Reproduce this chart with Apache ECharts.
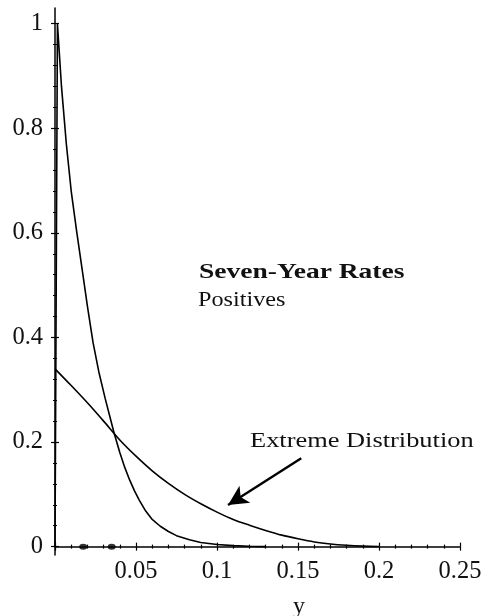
<!DOCTYPE html>
<html>
<head>
<meta charset="utf-8">
<script src="https://cdn.jsdelivr.net/npm/echarts@6/dist/echarts.min.js"></script>
<style>
html,body{margin:0;padding:0;background:#fff;}
#chart{width:486px;height:616px;}
</style>
</head>
<body>
<div id="chart"></div>
<script>
// ---- data ----
const peakX = [0, 0.0015, 0.004, 0.007, 0.010, 0.0135, 0.017, 0.020, 0.0235, 0.027, 0.031, 0.034, 0.0366, 0.040, 0.043, 0.046, 0.049, 0.052, 0.056, 0.060, 0.065, 0.070, 0.075, 0.083, 0.09, 0.1, 0.11, 0.12, 0.13];
const peakY = [0, 1.0, 0.88, 0.77, 0.68, 0.60, 0.525, 0.46, 0.39, 0.335, 0.283, 0.247, 0.216, 0.18, 0.152, 0.128, 0.107, 0.089, 0.068, 0.052, 0.039, 0.029, 0.021, 0.013, 0.008, 0.004, 0.002, 0.0006, 0];
const extremeX = [0, 0.01, 0.02, 0.03, 0.04, 0.05, 0.06, 0.07, 0.08, 0.09, 0.1, 0.11, 0.12, 0.13, 0.14, 0.15, 0.16, 0.17, 0.18, 0.19, 0.2];
const extremeY = [0.34, 0.308, 0.275, 0.24, 0.204, 0.173, 0.145, 0.121, 0.1, 0.082, 0.066, 0.052, 0.041, 0.031, 0.022, 0.015, 0.009, 0.005, 0.0025, 0.001, 0.0003];
const dotX = [0.0174, 0.035];
const dotY = [0, 0];
const xMajorTicks = [0, 0.05, 0.1, 0.15, 0.2, 0.25];
const xMinorTicks = [0.01, 0.02, 0.03, 0.04, 0.06, 0.07, 0.08, 0.09, 0.11, 0.12, 0.13, 0.14, 0.16, 0.17, 0.18, 0.19, 0.21, 0.22, 0.23, 0.24];
const xTickLabels = [0.05, 0.1, 0.15, 0.2, 0.25];
const yMajorTicks = [0, 0.2, 0.4, 0.6, 0.8, 1];
const yMinorTicks = [0.04, 0.08, 0.12, 0.16, 0.24, 0.28, 0.32, 0.36, 0.44, 0.48, 0.52, 0.56, 0.64, 0.68, 0.72, 0.76, 0.84, 0.88, 0.92, 0.96];
const yTickLabels = [0, 0.2, 0.4, 0.6, 0.8, 1];
const arrowTail = [0.152, 0.169];
const arrowTip = [0.1068, 0.0797];
const titleText = 'Seven-Year Rates';
const subText = 'Positives';
const noteText = 'Extreme Distribution';
const xName = 'y';

// ---- chart ----
const FONT = "'Liberation Serif', 'DejaVu Serif', serif";
const INK = '#000';
const TXT = '#111';
const zip = (a, b) => a.map((v, i) => [v, b[i]]);

function xAx(opts) {
  return Object.assign({
    type: 'value', min: 0, max: 0.25, position: 'bottom',
    axisLine: { show: false, onZero: true, lineStyle: { color: INK, width: 1.5 } },
    axisTick: { show: false },
    axisLabel: { show: false },
    splitLine: { show: false }
  }, opts);
}
function yAx(opts) {
  return Object.assign({
    type: 'value', min: -0.016, max: 1.03, position: 'left',
    axisLine: { show: false, onZero: false, lineStyle: { color: INK, width: 1.5 } },
    axisTick: { show: false },
    axisLabel: { show: false },
    splitLine: { show: false }
  }, opts);
}
const tickStyle = { color: INK, width: 1.2 };

const chart = echarts.init(document.getElementById('chart'), null, { renderer: 'canvas' });
chart.setOption({
  backgroundColor: '#fff',
  animation: false,
  grid: { left: 55, right: 26, top: 8, bottom: 61, containLabel: false, outerBoundsMode: 'none' },
  xAxis: [
    xAx({
      name: xName, nameLocation: 'middle', nameGap: 40,
      nameTextStyle: { fontFamily: FONT, fontSize: 24, color: TXT, padding: [0, 0, 0, 83] },
      axisLine: { show: true, onZero: true, lineStyle: { color: INK, width: 1.5 } },
      axisTick: { show: true, customValues: xMajorTicks, length: 4, lineStyle: tickStyle },
      axisLabel: { show: true, customValues: xTickLabels, margin: 4, fontFamily: FONT, fontSize: 24.5, color: TXT }
    }),
    xAx({ axisTick: { show: true, inside: true, customValues: xMajorTicks, length: 4, lineStyle: tickStyle } }),
    xAx({ axisTick: { show: true, customValues: xMinorTicks, length: 2, lineStyle: tickStyle } }),
    xAx({ axisTick: { show: true, inside: true, customValues: xMinorTicks, length: 2, lineStyle: tickStyle } })
  ],
  yAxis: [
    yAx({
      axisLine: { show: true, onZero: false, lineStyle: { color: INK, width: 1.5 } },
      axisTick: { show: true, customValues: yMajorTicks, length: 4, lineStyle: tickStyle },
      axisLabel: { show: true, customValues: yTickLabels, margin: 12, fontFamily: FONT, fontSize: 24.5, color: TXT }
    }),
    yAx({ axisTick: { show: true, inside: true, customValues: yMajorTicks, length: 4, lineStyle: tickStyle } }),
    yAx({ axisTick: { show: true, customValues: yMinorTicks, length: 2, lineStyle: tickStyle } }),
    yAx({ axisTick: { show: true, inside: true, customValues: yMinorTicks, length: 2, lineStyle: tickStyle } })
  ],
  series: [
    {
      type: 'line', xAxisIndex: 0, yAxisIndex: 0,
      data: zip(peakX, peakY), showSymbol: false, smooth: false,
      lineStyle: { color: INK, width: 1.6 }, silent: true
    },
    {
      type: 'line', xAxisIndex: 0, yAxisIndex: 0,
      data: zip(extremeX, extremeY), showSymbol: false, smooth: 0.3,
      lineStyle: { color: INK, width: 1.6 }, silent: true,
      markLine: {
        silent: true, animation: false,
        symbol: ['none', 'arrow'], symbolSize: 20,
        label: { show: false },
        lineStyle: { color: INK, width: 2.4, type: 'solid' },
        emphasis: { disabled: true },
        data: [[
          { coord: arrowTail, symbol: 'none' },
          { coord: arrowTip, symbol: 'arrow', symbolSize: [15, 20] }
        ]]
      }
    },
    {
      type: 'scatter', xAxisIndex: 0, yAxisIndex: 0,
      data: zip(dotX, dotY), symbol: 'circle', symbolSize: [8, 6],
      itemStyle: { color: INK }, silent: true
    }
  ],
  graphic: [
    { type: 'text', left: 199, top: 261, scaleX: 1.25, style: { text: titleText, font: "bold 22px " + FONT, fill: TXT } },
    { type: 'text', left: 198, top: 289, scaleX: 1.1, style: { text: subText, font: "22px " + FONT, fill: TXT } },
    { type: 'text', left: 250, top: 430, scaleX: 1.2, style: { text: noteText, font: "22px " + FONT, fill: TXT } }
  ]
});
</script>
</body>
</html>
